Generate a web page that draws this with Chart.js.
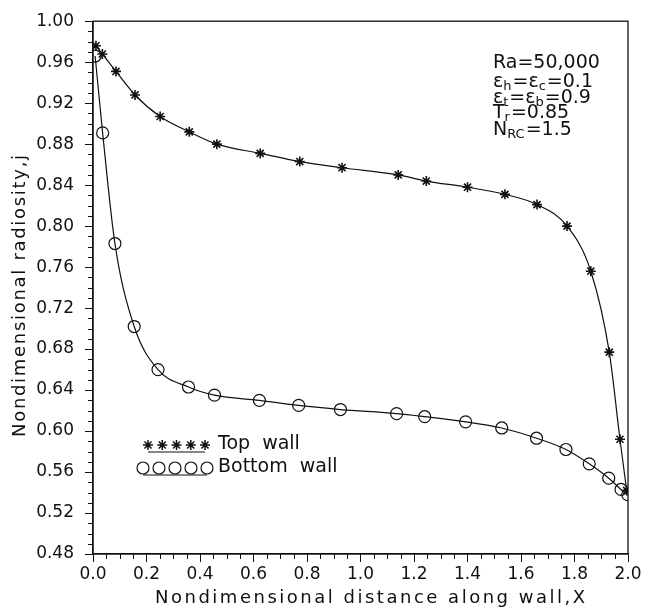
<!DOCTYPE html>
<html>
<head>
<meta charset="utf-8">
<script src="https://cdn.jsdelivr.net/npm/chart.js@4.4.1/dist/chart.umd.min.js"></script>
<style>
  html, body { margin: 0; padding: 0; background: #fff; }
  canvas { display: block; }
</style>
</head>
<body>
<canvas id="chartRadiosidad" width="648" height="611"></canvas>
<script>
// ── DATOS ───────────────────────────────────────────────────────
const topWallX    = [0.011, 0.035, 0.086, 0.157, 0.251, 0.360, 0.463, 0.625, 0.773, 0.931, 1.141, 1.246, 1.400, 1.540, 1.660, 1.772, 1.861, 1.930, 1.970, 1.995]
const topWallY    = [0.976, 0.968, 0.951, 0.928, 0.907, 0.892, 0.880, 0.871, 0.863, 0.857, 0.850, 0.844, 0.838, 0.831, 0.821, 0.800, 0.756, 0.677, 0.592, 0.542]
const bottomWallX = [0.008, 0.036, 0.082, 0.154, 0.243, 0.357, 0.454, 0.622, 0.769, 0.925, 1.135, 1.240, 1.393, 1.528, 1.658, 1.768, 1.855, 1.928, 1.974, 1.999]
const bottomWallY = [0.966, 0.891, 0.783, 0.702, 0.660, 0.643, 0.635, 0.630, 0.625, 0.621, 0.617, 0.614, 0.609, 0.603, 0.593, 0.582, 0.568, 0.554, 0.543, 0.538]

const xTickValues = [0.0, 0.2, 0.4, 0.6, 0.8, 1.0, 1.2, 1.4, 1.6, 1.8, 2.0]
const yTickValues = [0.48, 0.52, 0.56, 0.60, 0.64, 0.68, 0.72, 0.76, 0.80, 0.84, 0.88, 0.92, 0.96, 1.00]

const seriesLabels = ['Top  wall', 'Bottom  wall']
const xTitle = 'Nondimensional distance along wall,X'
const yTitle = 'Nondimensional radiosity,j'
// cada línea: [texto, esSubindice]
const notaLineas = [
    [['Ra=50,000', false]],
    [['ε', false], ['h', true], ['=ε', false], ['c', true], ['=0.1', false]],
    [['ε', false], ['t', true], ['=ε', false], ['b', true], ['=0.9', false]],
    [['T', false], ['r', true], ['=0.85', false]],
    [['N', false], ['RC', true], ['=1.5', false]]
]
const notaY = [63, 82, 98, 113, 130]

const INK  = '#111'
const FONT = '"DejaVu Sans", sans-serif'

// ── UTILIDADES DE TEXTO ─────────────────────────────────────────
/** Dibuja un texto ajustando el espaciado entre letras para que ocupe el ancho dado */
function textoAjustado(ctx, texto, cx, cy, ancho) {
    ctx.letterSpacing = '0px'
    const medido = ctx.measureText(texto).width
    const extra = (ancho - medido) / (texto.length - 1)
    if ('letterSpacing' in ctx) ctx.letterSpacing = extra.toFixed(2) + 'px'
    ctx.textAlign = 'left'
    ctx.textBaseline = 'middle'
    ctx.fillText(texto, cx - ancho / 2, cy)
    ctx.letterSpacing = '0px'
}

function lineaRica(ctx, partes, x, y) {
    let cx = x
    partes.forEach(([t, sub]) => {
        ctx.font = sub ? `13px ${FONT}` : `19px ${FONT}`
        ctx.fillText(t, cx, sub ? y + 5 : y)
        cx += ctx.measureText(t).width + (sub ? 1 : 0)
    })
}

// ── PLUGIN: marco, ticks menores, títulos, leyenda y nota ─────────
const decoracionPlugin = {
    id: 'decoracion',
    afterDraw(chart) {
        const { ctx, chartArea: a, scales: { x, y } } = chart
        ctx.save()
        ctx.strokeStyle = INK
        ctx.fillStyle = INK
        ctx.lineWidth = 1.3
        ctx.strokeRect(a.left, a.top, a.right - a.left, a.bottom - a.top)

        // ticks menores
        ctx.lineWidth = 1
        ctx.beginPath()
        for (let i = 0; i <= 40; i++) {
            if (i % 4 === 0) continue
            const px = Math.round(x.getPixelForValue(i * 0.05)) + 0.5
            ctx.moveTo(px, a.bottom); ctx.lineTo(px, a.bottom + 5)
        }
        for (let i = 0; i <= 52; i++) {
            if (i % 4 === 0) continue
            const py = Math.round(y.getPixelForValue(0.48 + i * 0.01)) + 0.5
            ctx.moveTo(a.left - 5, py); ctx.lineTo(a.left, py)
        }
        ctx.stroke()

        // títulos de ejes
        ctx.font = `18px ${FONT}`
        textoAjustado(ctx, xTitle, 370, 598, 430)
        ctx.save()
        ctx.translate(20, 296)
        ctx.rotate(-Math.PI / 2)
        textoAjustado(ctx, yTitle, 0, 0, 282)
        ctx.restore()

        // leyenda
        const filas = [
            { estilo: 'star',   r: 5, x0: 148, x1: 205, yc: 445, linea: 452 },
            { estilo: 'circle', r: 6, x0: 143, x1: 207, yc: 468, linea: 475 }
        ]
        filas.forEach((f, i) => {
            ctx.lineWidth = 1.2
            ctx.beginPath()
            ctx.moveTo(f.x0, f.linea); ctx.lineTo(f.x1, f.linea)
            ctx.stroke()
            for (let k = 0; k < 5; k++) {
                const px = f.x0 + (f.x1 - f.x0) * k / 4
                ctx.fillStyle = '#fff'
                ctx.lineWidth = f.estilo === 'star' ? 1.5 : 1.2
                Chart.helpers.drawPoint(ctx, { pointStyle: f.estilo, radius: f.r, rotation: 0, borderWidth: ctx.lineWidth }, px, f.yc)
            }
            ctx.fillStyle = INK
            ctx.font = `19px ${FONT}`
            ctx.textAlign = 'left'
            ctx.textBaseline = 'middle'
            ctx.fillText(seriesLabels[i], 218, f.yc - 1)
        })

        // nota de parámetros
        ctx.textAlign = 'left'
        ctx.textBaseline = 'middle'
        notaLineas.forEach((partes, i) => lineaRica(ctx, partes, 493, notaY[i]))
        ctx.restore()
    }
}

// ── GRÁFICO ─────────────────────────────────────────────────────
const toPuntos = (xs, ys) => xs.map((v, i) => ({ x: v, y: ys[i] }))

new Chart(document.getElementById('chartRadiosidad').getContext('2d'), {
    type: 'line',
    data: {
        datasets: [
            {
                label: seriesLabels[0], data: toPuntos(topWallX, topWallY),
                borderColor: INK, borderWidth: 1.2, cubicInterpolationMode: 'monotone',
                pointStyle: 'star', pointRadius: 5, pointBorderWidth: 1.6,
                pointBorderColor: INK, pointBackgroundColor: INK
            },
            {
                label: seriesLabels[1], data: toPuntos(bottomWallX, bottomWallY),
                borderColor: INK, borderWidth: 1.2, cubicInterpolationMode: 'monotone',
                pointStyle: 'circle', pointRadius: 6, pointBorderWidth: 1.2,
                pointBorderColor: INK, pointBackgroundColor: 'rgba(255,255,255,0)'
            }
        ]
    },
    options: {
        responsive: false,
        animation: false,
        layout: { padding: { top: 15, right: 20, left: 0, bottom: 0 } },
        plugins: { legend: { display: false }, tooltip: { enabled: false } },
        scales: {
            x: {
                type: 'linear', min: 0, max: 2,
                afterBuildTicks: s => { s.ticks = xTickValues.map(v => ({ value: v })) },
                afterFit: s => { s.height = 57 },
                ticks: { color: INK, font: { family: FONT, size: 17 }, padding: 2, maxRotation: 0,
                         callback: v => v.toFixed(1) },
                grid: { drawOnChartArea: false, drawTicks: true, tickLength: 8, tickColor: INK, tickWidth: 1 },
                border: { color: INK, width: 1.3 }
            },
            y: {
                type: 'linear', min: 0.48, max: 1.0,
                afterBuildTicks: s => { s.ticks = yTickValues.map(v => ({ value: v })) },
                afterFit: s => { s.width = 93 },
                ticks: { color: INK, font: { family: FONT, size: 17 }, padding: 11,
                         callback: v => v.toFixed(2) },
                grid: { drawOnChartArea: false, drawTicks: true, tickLength: 8, tickColor: INK, tickWidth: 1 },
                border: { color: INK, width: 1.3 }
            }
        }
    },
    plugins: [decoracionPlugin]
})
</script>
</body>
</html>
